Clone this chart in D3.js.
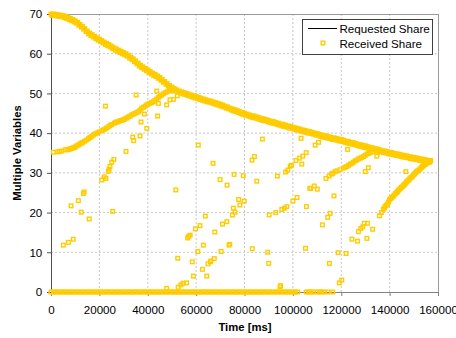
<!DOCTYPE html>
<html>
<head>
<meta charset="utf-8">
<script src="https://cdn.jsdelivr.net/npm/d3@7"></script>
<style>
  html, body { margin: 0; padding: 0; background: #fff; }
  svg { display: block; font-family: "Liberation Sans", Arial, sans-serif; }
</style>
</head>
<body>
<svg id="chart" width="456" height="338"></svg>
<script>
// ---------- DATA ----------
const xTicks = [0, 20000, 40000, 60000, 80000, 100000, 120000, 140000, 160000];
const yTicks = [0, 10, 20, 30, 40, 50, 60, 70];
const seriesNames = ["Requested Share", "Received Share"];

// Requested share (black line)
const requestedT = [0, 5000, 10000, 15000, 20000, 25000, 30000, 35000, 40000, 45000, 50000, 53000, 56000, 60000, 70000, 80000, 90000, 100000, 110000, 120000, 130000, 140000, 150000, 157000];
const requestedV = [70, 69.6, 68.3, 65.7, 63.7, 61.9, 60.3, 58.2, 55.9, 54.0, 51.6, 50.6, 50.0, 49.2, 47.3, 45.0, 43.2, 41.5, 39.9, 38.4, 36.8, 35.2, 33.9, 33.0];

// Received share: points that follow the requested share
const receivedOnCurve = [
[0,70.0],[1000,70.0],[2000,69.9],[3000,69.8],[4000,69.7],[5000,69.6],[6000,69.4],[7000,69.2],[8000,68.9],[9000,68.6],
[10000,68.3],[11000,67.9],[12000,67.4],[13000,66.9],[14000,66.3],[15000,65.7],[16000,65.2],[17000,64.8],[18000,64.4],[19000,64.0],
[20000,63.7],[21000,63.3],[22000,62.9],[23000,62.6],[24000,62.3],[25000,61.9],[26000,61.5],[27000,61.2],[28000,60.9],[29000,60.6],
[30000,60.3],[31000,60.0],[32000,59.6],[33000,59.1],[34000,58.7],[35000,58.2],[36000,57.6],[37000,57.1],[38000,56.7],[39000,56.3],
[40000,55.9],[41000,55.5],[42000,55.1],[43000,54.8],[44000,54.4],[45000,54.0],[46000,53.5],[47000,53.0],[48000,52.5],[49000,52.0],
[50000,51.6],[51000,51.2],[52000,50.9],[53000,50.6],[54000,50.4],[55000,50.2],[56000,50.0],[57000,49.8],[58000,49.6],[59000,49.4],
[60000,49.2],[61000,49.0],[62000,48.8],[63000,48.6],[64000,48.4],[65000,48.2],[66000,48.1],[67000,47.9],[68000,47.7],[69000,47.5],
[70000,47.3],[71000,47.1],[72000,46.8],[73000,46.6],[74000,46.3],[75000,46.1],[76000,45.9],[77000,45.7],[78000,45.4],[79000,45.2],
[80000,45.0],[81000,44.8],[82000,44.6],[83000,44.4],[84000,44.3],[85000,44.1],[86000,43.9],[87000,43.7],[88000,43.6],[89000,43.4],
[90000,43.2],[91000,43.0],[92000,42.9],[93000,42.7],[94000,42.5],[95000,42.3],[96000,42.2],[97000,42.0],[98000,41.8],[99000,41.7],
[100000,41.5],[101000,41.3],[102000,41.2],[103000,41.0],[104000,40.8],[105000,40.7],[106000,40.5],[107000,40.4],[108000,40.2],[109000,40.0],
[110000,39.9],[111000,39.7],[112000,39.5],[113000,39.4],[114000,39.2],[115000,39.1],[116000,38.9],[117000,38.8],[118000,38.7],[119000,38.5],
[120000,38.4],[121000,38.2],[122000,38.0],[123000,37.9],[124000,37.7],[125000,37.6],[126000,37.4],[127000,37.2],[128000,37.1],[129000,36.9],
[130000,36.8],[131000,36.6],[132000,36.4],[133000,36.3],[134000,36.1],[135000,36.0],[136000,35.8],[137000,35.6],[138000,35.5],[139000,35.3],
[140000,35.2],[141000,35.1],[142000,34.9],[143000,34.8],[144000,34.7],[145000,34.5],[146000,34.4],[147000,34.3],[148000,34.1],[149000,34.0],
[150000,33.9],[151000,33.8],[152000,33.6],[153000,33.5],[154000,33.4],[155000,33.3],[156000,33.1],[157000,33.0]
];

// Received share: second, slightly lower set of points along the requested share
const receivedOnCurveLow = [
[500,69.6],[1500,69.6],[2500,69.5],[3500,69.4],[4500,69.3],[5500,69.1],[6500,68.9],[7500,68.6],[8500,68.3],[9500,68.0],
[10500,67.7],[11500,67.2],[12500,66.7],[13500,66.2],[14500,65.6],[15500,65.0],[16500,64.6],[17500,64.2],[18500,63.8],[19500,63.4],
[20500,63.1],[21500,62.7],[22500,62.3],[23500,62.0],[24500,61.7],[25500,61.3],[26500,60.9],[27500,60.6],[28500,60.3],[29500,60.0],
[30500,59.7],[31500,59.4],[32500,58.9],[33500,58.5],[34500,58.0],[35500,57.5],[36500,56.9],[37500,56.5],[38500,56.1],[39500,55.7],
[40500,55.3],[41500,54.9],[42500,54.5],[43500,54.2],[44500,53.8],[45500,53.3],[46500,52.8],[47500,52.3],[48500,51.8],[49500,51.4],
[50500,51.0],[51500,50.6],[52500,50.3],[53500,50.1],[54500,49.9],[55500,49.7],[56500,49.5],[57500,49.3],[58500,49.1],[59500,48.9],
[60500,48.7],[61500,48.5],[62500,48.3],[63500,48.1],[64500,47.9],[65500,47.8],[66500,47.6],[67500,47.4],[68500,47.2],[69500,47.0],
[70500,46.8],[71500,46.6],[72500,46.3],[73500,46.1],[74500,45.8],[75500,45.6],[76500,45.4],[77500,45.2],[78500,44.9],[79500,44.7],
[80500,44.5],[81500,44.3],[82500,44.1],[83500,43.9],[84500,43.8],[85500,43.6],[86500,43.4],[87500,43.2],[88500,43.1],[89500,42.9],
[90500,42.7],[91500,42.5],[92500,42.4],[93500,42.2],[94500,42.0],[95500,41.8],[96500,41.7],[97500,41.5],[98500,41.3],[99500,41.2],
[100500,41.0],[101500,40.8],[102500,40.7],[103500,40.5],[104500,40.3],[105500,40.2],[106500,40.0],[107500,39.9],[108500,39.7],[109500,39.5],
[110500,39.4],[111500,39.2],[112500,39.0],[113500,38.9],[114500,38.7],[115500,38.6],[116500,38.4],[117500,38.3],[118500,38.2],[119500,38.0],
[120500,37.9],[121500,37.7],[122500,37.5],[123500,37.4],[124500,37.2],[125500,37.1],[126500,36.9],[127500,36.7],[128500,36.6],[129500,36.4],
[130500,36.3],[131500,36.1],[132500,35.9],[133500,35.8],[134500,35.6],[135500,35.5],[136500,35.3],[137500,35.1],[138500,35.0],[139500,34.8],
[140500,34.7],[141500,34.6],[142500,34.4],[143500,34.3],[144500,34.2],[145500,34.0],[146500,33.9],[147500,33.8],[148500,33.6],[149500,33.5],
[150500,33.4],[151500,33.3],[152500,33.1],[153500,33.0],[154500,32.9],[155500,32.8],[156500,32.7]
];

// Received share: times of points at zero
const receivedZeroT = [0,1000,2000,3000,4000,5000,6000,7000,8000,9000,10000,11000,12000,13000,14000,15000,16000,17000,18000,19000,
20000,21000,22000,23000,24000,25000,26000,27000,28000,29000,30000,31000,32000,33000,34000,35000,36000,37000,38000,39000,
40000,41000,42000,43000,44000,45000,46000,47000,48000,49000,50000,51000,52000,53000,54000,55000,56000,57000,58000,59000,
60000,61000,62000,63000,64000,65000,66000,67000,68000,69000,70000,71000,72000,73000,74000,75000,76000,77000,78000,79000,
80000,81000,82000,83000,84000,85000,86000,87000,88000,89000,90000,91000,92000,93000,94000,95000,96000,97000,98000,99000,
100000,101000,102000,105500,106500,107500,108500,110000,111000,112000,113000,114500,116500];

// Received share: ramping flows and scattered points
const receivedOther = [
[950,35.2],[2800,35.3],[3500,35.4],[4300,35.5],[5800,35.8],[6500,35.8],[7200,35.9],[7700,36.0],[8200,36.1],[8700,36.2],
[9200,36.3],[9600,36.4],[10000,36.5],[10600,36.8],[11300,37.0],[12000,37.3],[12600,37.5],[13100,37.7],[14000,38.0],[14800,38.3],
[15500,38.6],[16100,38.9],[16800,39.2],[17500,39.5],[18200,39.8],[19000,40.0],[19800,40.3],[21000,40.6],[21600,40.8],[22300,41.0],
[23000,41.3],[23700,41.6],[24400,41.9],[25100,42.2],[26200,42.5],[26700,42.7],[27200,42.8],[27800,42.9],[28500,43.1],[29000,43.2],
[29500,43.3],[30100,43.4],[30600,43.6],[31300,43.8],[32000,44.1],[32700,44.3],[33400,44.6],[34100,44.8],[34800,45.0],[35500,45.2],
[36100,45.4],[36800,45.8],[37500,46.3],[38200,46.5],[38900,46.8],[39600,47.1],[40200,47.3],[40900,47.5],[41600,47.7],[42300,47.9],
[43000,48.2],[43700,48.6],[44400,49.0],[45100,49.3],[45800,49.6],[46500,49.9],[47200,50.2],[48000,50.4],[49000,50.6],[50000,50.8],[51000,51.0],
[5100,11.8],[7200,12.5],[9200,13.3],
[8300,21.7],[11300,23.0],[13400,24.8],[13700,25.2],[12500,20.1],[15800,18.4],
[21000,28.2],[22000,29.0],[22700,28.6],[23700,30.4],[24000,30.9],[24400,31.6],[25100,32.7],[26000,33.4],[25500,20.3],[22500,46.8],[31000,35.4],
[33800,39.0],[34200,38.1],[36800,39.3],[39600,41.2],[37200,42.8],[38600,44.8],[44100,44.3],[35200,49.6],[43700,50.6],[44400,47.5],
[47800,47.1],[49200,48.4],[50600,48.5],[52200,49.4],[51600,25.7],
[60900,37.0],[87400,38.5],[103400,38.7],[67000,32.4],[83100,33.2],[84100,34.1],[69900,28.3],[75700,29.6],[79500,29.3],[72800,26.9],
[85100,27.9],[77600,23.3],[78100,21.9],[79900,22.9],[75400,21.1],[75000,19.4],[76100,20.1],[72700,17.7],[70900,17.1],[67700,15.1],
[73600,11.8],[73900,12.0],[70300,10.2],
[90200,19.4],[92900,20.0],[95400,20.8],[96500,21.1],[97500,21.5],[100000,22.9],[101700,23.8],[105600,21.5],[107000,26.1],
[93600,29.2],[97000,30.2],[97900,30.7],[99400,31.9],[101300,33.1],[102700,33.7],[104100,34.2],[105500,35.1],[103700,32.2],[98900,31.7],
[47800,0.9],[52400,8.5],[52600,1.2],[53700,1.8],[54600,2.2],[56100,2.3],[56500,13.6],[56900,14.0],[57500,14.3],[58400,7.6],
[58900,4.0],[59700,15.9],[60700,10.2],[61600,16.7],[62600,5.7],[63000,11.8],[63800,19.1],[64400,4.0],[64900,7.1],[65900,7.6],
[66100,7.8],[67500,8.4],
[83200,10.9],[89600,10.0],[90000,7.2],[105200,11.0],[94700,1.3],[94900,1.6],
[109200,37.0],[110600,37.7],[122600,35.9],
[113700,28.6],[115000,29.2],[116000,29.7],[116500,29.9],[117500,30.3],[118200,30.5],[119500,30.8],[120900,31.2],[121600,31.4],[122300,31.6],
[123000,31.9],[123700,32.2],[124400,32.4],[125000,32.7],[125700,33.0],[126400,33.2],[127100,33.5],[127800,33.7],[128500,33.9],[129200,34.1],
[129900,34.4],[130600,34.7],[131300,34.9],[132000,35.1],[133000,35.3],[134700,34.2],[135000,35.1],
[129900,30.3],[131200,31.3],
[107400,26.1],[108800,26.7],[110100,25.9],[117000,24.2],[114400,18.8],[115400,19.8],[112200,16.9],[118700,9.9],[122000,9.7],[115100,7.2],
[119200,2.3],[120200,3.0],
[124400,13.3],[126700,12.8],[127100,15.2],[128100,16.0],[128900,16.4],[129500,17.3],[130600,13.5],[133000,15.8],[130800,17.3],
[135800,19.2],[136600,20.0],[137400,20.8],[137800,21.1],[138100,21.5],[138600,21.8],[139100,22.1],[139500,22.6],[139900,23.2],[140400,23.5],
[140900,23.8],[141400,24.1],[141900,24.4],[142400,24.8],[143000,25.1],[143400,25.4],[143800,25.7],[144300,26.0],[144800,26.3],[145200,26.5],
[145700,26.8],[146100,27.1],[146600,27.4],[147000,27.7],[147500,28.0],[147900,28.2],[148300,28.5],[148800,28.8],[149300,29.0],[149800,29.4],
[150300,29.7],[150700,30.0],[151100,30.3],[151600,30.5],[152100,30.7],[152600,31.0],[153100,31.3],[153600,31.6],[154200,31.9],[154700,32.1],
[155300,32.4],[155800,32.6],[156200,32.8],[156900,33.1],[146700,30.3]
];

// ---------- CHART ----------
const plot = { left: 51, right: 438, top: 14, bottom: 292 };
const yellow = "#FFCC00";
const fontSize = "11.6px";

const svg = d3.select("#chart");
const x = d3.scaleLinear().domain([0, 160000]).range([plot.left, plot.right]);
const y = d3.scaleLinear().domain([0, 70]).range([plot.bottom, plot.top]);

// gridlines
svg.append("g").selectAll("line")
  .data(xTicks.filter(t => t > 0 && t < 160000)).join("line")
  .attr("x1", d => x(d)).attr("x2", d => x(d))
  .attr("y1", plot.top).attr("y2", plot.bottom)
  .attr("stroke", "#c8c8c8").attr("stroke-width", 1).attr("stroke-dasharray", "2,2");
svg.append("g").selectAll("line")
  .data(yTicks.filter(t => t > 0 && t < 70)).join("line")
  .attr("x1", plot.left).attr("x2", plot.right)
  .attr("y1", d => y(d)).attr("y2", d => y(d))
  .attr("stroke", "#c8c8c8").attr("stroke-width", 1).attr("stroke-dasharray", "2,2");

// top / right frame
svg.append("line").attr("x1", plot.left).attr("x2", plot.right).attr("y1", plot.top + 0.5).attr("y2", plot.top + 0.5)
  .attr("stroke", "#9a9a9a");
svg.append("line").attr("x1", plot.right + 0.5).attr("x2", plot.right + 0.5).attr("y1", plot.top).attr("y2", plot.bottom)
  .attr("stroke", "#9a9a9a");

// requested share line
const reqData = requestedT.map((t, i) => [t, requestedV[i]]);
svg.append("path").datum(reqData)
  .attr("fill", "none").attr("stroke", "#000").attr("stroke-width", 1)
  .attr("d", d3.line().x(d => x(d[0])).y(d => y(d[1])));

// axes
const xAxis = svg.append("g").attr("transform", `translate(0,${plot.bottom})`)
  .call(d3.axisBottom(x).tickValues(xTicks).tickFormat(d3.format("d")).tickSize(4).tickPadding(9.5).tickSizeOuter(0));
const yAxis = svg.append("g").attr("transform", `translate(${plot.left},0)`)
  .call(d3.axisLeft(y).tickValues(yTicks).tickFormat(d3.format("d")).tickSize(4).tickPadding(4.7).tickSizeOuter(0));
[xAxis, yAxis].forEach(a => {
  a.selectAll("text").attr("font-size", fontSize).attr("fill", "#000")
    .attr("font-family", '"Liberation Sans", Arial, sans-serif');
});
xAxis.select(".domain").attr("stroke", "#808080");
xAxis.selectAll(".tick line").attr("stroke", "#808080");
yAxis.select(".domain").attr("stroke", "#505050");
yAxis.selectAll(".tick line").attr("stroke", "#505050");

// received share markers
const received = receivedOnCurve
  .concat(receivedOnCurveLow)
  .concat(receivedZeroT.map(t => [t, 0]))
  .concat(receivedOther);
const sq = 3.6, sw = 1.4;
svg.append("g").selectAll("rect").data(received).join("rect")
  .attr("x", d => x(d[0]) - sq / 2).attr("y", d => y(d[1]) - sq / 2)
  .attr("width", sq).attr("height", sq)
  .attr("fill", "none").attr("stroke", yellow).attr("stroke-width", sw);

// axis titles
svg.append("text").attr("x", 245).attr("y", 330.5).attr("text-anchor", "middle")
  .attr("font-size", "11.3px").attr("font-weight", "bold").text("Time [ms]");
svg.append("text").attr("transform", "translate(21,153) rotate(-90)").attr("text-anchor", "middle")
  .attr("font-size", "11.3px").attr("font-weight", "bold").text("Multiple Variables");

// legend
const lg = svg.append("g");
lg.append("rect").attr("x", 302.5).attr("y", 19.5).attr("width", 130).attr("height", 35)
  .attr("fill", "#fff").attr("stroke", "#404040").attr("stroke-width", 1);
lg.append("line").attr("x1", 308).attr("x2", 337).attr("y1", 28.5).attr("y2", 28.5)
  .attr("stroke", "#000").attr("stroke-width", 1);
lg.append("rect").attr("x", 323 - sq / 2).attr("y", 43 - sq / 2).attr("width", sq).attr("height", sq)
  .attr("fill", "none").attr("stroke", yellow).attr("stroke-width", sw);
lg.append("text").attr("x", 339.5).attr("y", 32.5).attr("font-size", fontSize).text(seriesNames[0]);
lg.append("text").attr("x", 339.5).attr("y", 47.5).attr("font-size", fontSize).text(seriesNames[1]);
</script>
</body>
</html>
